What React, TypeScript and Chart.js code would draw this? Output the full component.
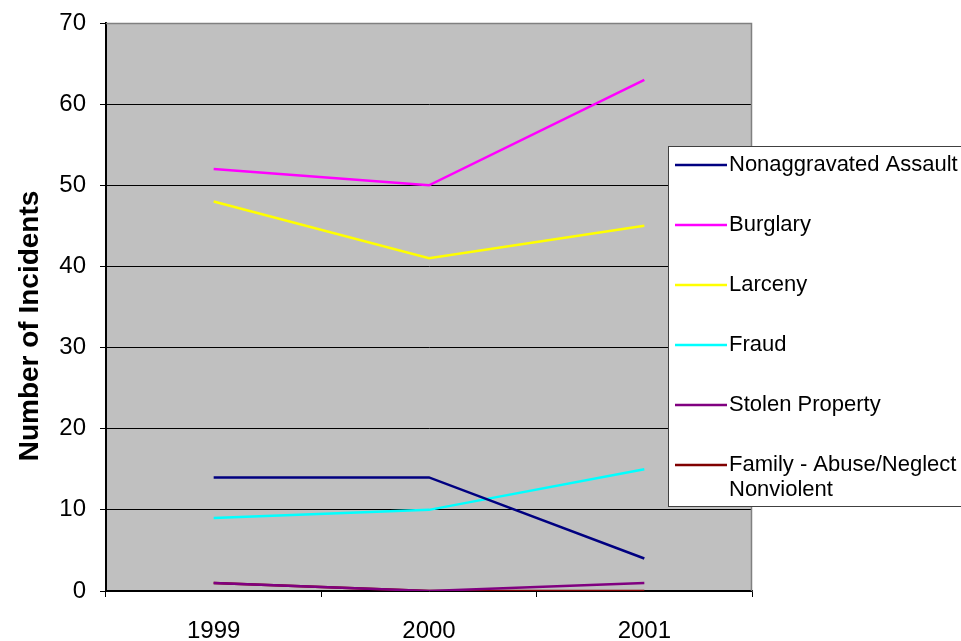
import React, { useEffect, useRef } from "react";
import { Chart, registerables } from "chart.js";

Chart.register(...registerables);

// Reported incidents per year
const years = ["1999", "2000", "2001"];
const nonaggravatedAssault = [14, 14, 4];
const burglary = [52, 50, 63];
const larceny = [48, 41, 45];
const fraud = [9, 10, 15];
const stolenProperty = [1, 0, 1];
const familyAbuseNeglect = [1, 0, 0];

const seriesLabels = [
  "Nonaggravated Assault",
  "Burglary",
  "Larceny",
  "Fraud",
  "Stolen Property",
  "Family - Abuse/Neglect Nonviolent",
];
const seriesColors = ["#000080", "#FF00FF", "#FFFF00", "#00FFFF", "#800080", "#800000"];
const seriesValues = [
  nonaggravatedAssault,
  burglary,
  larceny,
  fraud,
  stolenProperty,
  familyAbuseNeglect,
];

const yMin = 0;
const yMax = 70;
const yStep = 10;

const FONT = "'Liberation Sans', Arial, Helvetica, sans-serif";

// Gray plot background plus its outline
const plotBackground = {
  id: "plotBackground",
  beforeDraw(chart: Chart) {
    const { ctx, chartArea: a } = chart;
    ctx.save();
    ctx.fillStyle = "#C0C0C0";
    ctx.fillRect(a.left, a.top, a.right - a.left, a.bottom - a.top);
    ctx.restore();
  },
  afterDatasetsDraw(chart: Chart) {
    const { ctx, chartArea: a } = chart;
    ctx.save();
    ctx.strokeStyle = "#808080";
    ctx.lineWidth = 1.5;
    ctx.beginPath();
    ctx.moveTo(a.left, a.top + 0.5);
    ctx.lineTo(a.right - 0.5, a.top + 0.5);
    ctx.lineTo(a.right - 0.5, a.bottom);
    ctx.stroke();
    ctx.restore();
  },
};

// Vertical axis title and boxed legend
const decorations = {
  id: "decorations",
  afterDraw(chart: Chart) {
    const { ctx } = chart;
    ctx.save();
    // axis title
    ctx.translate(30, 326);
    ctx.rotate(-Math.PI / 2);
    ctx.font = `bold 28px ${FONT}`;
    ctx.fillStyle = "#000";
    ctx.textAlign = "center";
    ctx.textBaseline = "middle";
    ctx.fillText("Number of Incidents", 0, 0);
    ctx.restore();

    // legend
    ctx.save();
    const bx = 668.5;
    const by = 146.5;
    const bw = 300;
    const bh = 360;
    ctx.fillStyle = "#FFFFFF";
    ctx.fillRect(bx, by, bw, bh);
    ctx.strokeStyle = "#404040";
    ctx.lineWidth = 1;
    ctx.strokeRect(bx, by, bw, bh);
    ctx.font = `22px ${FONT}`;
    ctx.textAlign = "left";
    ctx.textBaseline = "middle";
    chart.data.datasets.forEach((ds: any, i: number) => {
      const y = 165 + i * 60;
      ctx.strokeStyle = ds.borderColor;
      ctx.lineWidth = 2.5;
      ctx.beginPath();
      ctx.moveTo(675, y);
      ctx.lineTo(727, y);
      ctx.stroke();
      ctx.fillStyle = "#000";
      const label: string = ds.label;
      if (label.startsWith("Family")) {
        ctx.fillText("Family - Abuse/Neglect", 729, y);
        ctx.fillText("Nonviolent", 729, y + 25);
      } else {
        ctx.fillText(label, 729, y);
      }
    });
    ctx.restore();
  },
};

export default function App() {
  const canvasRef = useRef<HTMLCanvasElement | null>(null);

  useEffect(() => {
    if (!canvasRef.current) return;
    const chart = new Chart(canvasRef.current, {
      type: "line",
      data: {
        labels: years,
        datasets: seriesLabels.map((label, i) => ({
          label,
          data: seriesValues[i],
          borderColor: seriesColors[i],
          backgroundColor: seriesColors[i],
          borderWidth: 2.5,
          pointRadius: 0,
          tension: 0,
          fill: false,
        })),
      },
      options: {
        responsive: false,
        animation: false,
        layout: { padding: { top: 23, right: 209, left: 0, bottom: 0 } },
        plugins: {
          legend: { display: false },
          tooltip: { enabled: false },
          title: { display: false },
        },
        scales: {
          x: {
            offset: true,
            grid: {
              offset: true,
              drawOnChartArea: false,
              drawTicks: true,
              tickLength: 6,
              color: "#000",
            },
            border: { display: true, color: "#000", width: 1.5 },
            ticks: {
              color: "#000",
              font: { family: FONT, size: 24 },
              padding: 20,
              maxRotation: 0,
            },
            afterFit(scale: any) {
              scale.height = 50;
            },
          },
          y: {
            min: yMin,
            max: yMax,
            ticks: {
              stepSize: yStep,
              color: "#000",
              font: { family: FONT, size: 24, lineHeight: 0.7 },
              padding: 14,
            },
            grid: {
              color: "#000",
              lineWidth: 1,
              tickLength: 6,
              drawTicks: true,
            },
            border: { display: true, color: "#000", width: 2 },
            afterFit(scale: any) {
              scale.width = 106;
            },
          },
        },
      },
      plugins: [plotBackground, decorations],
    });
    return () => chart.destroy();
  }, []);

  return (
    <div style={{ position: "absolute", left: 0, top: 0, width: 961, height: 641, background: "#fff" }}>
      <canvas ref={canvasRef} width={961} height={641} style={{ display: "block" }} />
    </div>
  );
}
